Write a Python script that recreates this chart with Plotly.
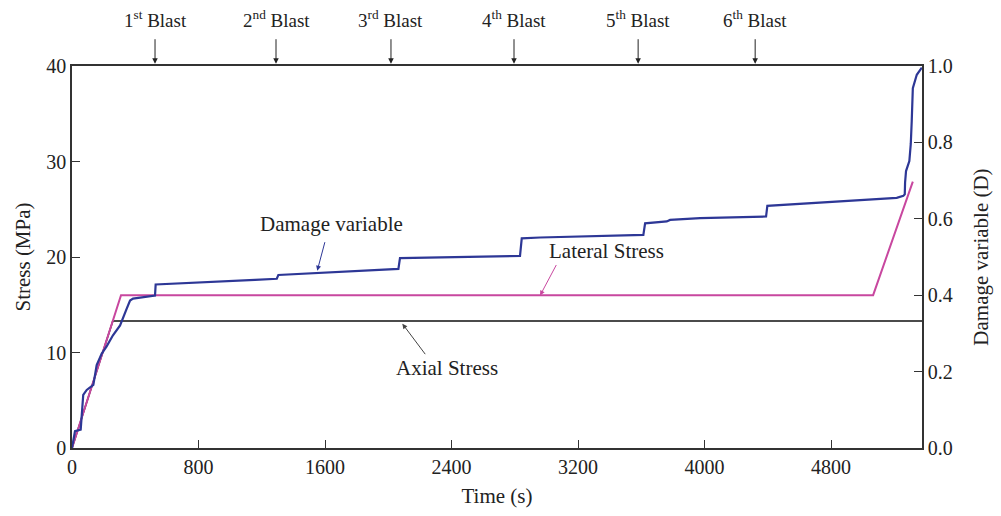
import plotly.graph_objects as go

# ---- data ----
damage_t = [0, 19, 55, 71, 93, 135, 156, 188, 219, 259, 304, 323, 346, 367, 386, 525, 529,
            1157, 1295, 1305, 1537, 1885, 2064, 2074, 2833, 2844, 2960, 3613, 3624, 3761,
            3782, 3972, 4389, 4397, 5215, 5257, 5266, 5268, 5274, 5295, 5304, 5310, 5317,
            5342, 5374]
damage_D = [0.0, 0.044, 0.048, 0.139, 0.152, 0.165, 0.217, 0.247, 0.266, 0.295, 0.321, 0.339,
            0.365, 0.386, 0.391, 0.399, 0.428, 0.440, 0.443, 0.453, 0.458, 0.464, 0.469, 0.497,
            0.503, 0.549, 0.551, 0.558, 0.588, 0.593, 0.597, 0.602, 0.606, 0.634, 0.655, 0.660,
            0.664, 0.695, 0.725, 0.751, 0.796, 0.855, 0.942, 0.977, 0.996]

lateral_t = [0, 310, 5066, 5317]
lateral_s = [0, 16.0, 16.0, 27.9]

axial_t = [0, 258, 5375]
axial_s = [0, 13.3, 13.3]

blast_t = [525, 1290, 2017, 2795, 3580, 4320]
blast_labels = ["1<sup>st</sup> Blast", "2<sup>nd</sup> Blast", "3<sup>rd</sup> Blast",
                "4<sup>th</sup> Blast", "5<sup>th</sup> Blast", "6<sup>th</sup> Blast"]

x_ticks = [0, 800, 1600, 2400, 3200, 4000, 4800]

FONT = "Liberation Serif"
BLUE = "#2d3796"
PINK = "#c8479f"
AX = "#333333"
TXT = 21
TICK = 20

fig = go.Figure()
fig.add_trace(go.Scatter(x=axial_t, y=axial_s, mode="lines",
                         line=dict(color="#111111", width=1.6), name="Axial Stress"))
fig.add_trace(go.Scatter(x=lateral_t, y=lateral_s, mode="lines",
                         line=dict(color=PINK, width=2), name="Lateral Stress"))
fig.add_trace(go.Scatter(x=damage_t, y=damage_D, mode="lines", yaxis="y2",
                         line=dict(color=BLUE, width=2.2), name="Damage variable"))

ann = []
for t, lab in zip(blast_t, blast_labels):
    ann.append(dict(x=t, y=1.117, xref="x", yref="paper", text=lab, showarrow=False,
                    yanchor="middle", yshift=2,
                    font=dict(family=FONT, size=19, color="#222")))
    ann.append(dict(x=t, y=1.006, xref="x", yref="paper", text="", showarrow=True,
                    ax=0, ay=-26, arrowhead=2, arrowsize=1.1, arrowwidth=1, arrowcolor="#222"))

ann += [
    dict(x=1642, y=23.44, xref="x", yref="y", text="Damage variable", showarrow=False,
         font=dict(family=FONT, size=TXT, color="#222")),
    dict(x=1551, y=18.57, xref="x", yref="y", text="", showarrow=True, ax=8, ay=-30,
         arrowhead=2, arrowsize=1, arrowwidth=1, arrowcolor=BLUE),
    dict(x=3383, y=20.66, xref="x", yref="y", text="Lateral Stress", showarrow=False,
         font=dict(family=FONT, size=TXT, color="#222")),
    dict(x=2960, y=15.97, xref="x", yref="y", text="", showarrow=True, ax=17, ay=-32,
         arrowhead=2, arrowsize=1, arrowwidth=1, arrowcolor=PINK),
    dict(x=2372, y=8.33, xref="x", yref="y", text="Axial Stress", showarrow=False,
         font=dict(family=FONT, size=TXT, color="#222")),
    dict(x=2089, y=13.02, xref="x", yref="y", text="", showarrow=True, ax=24, ay=32,
         arrowhead=2, arrowsize=1, arrowwidth=1, arrowcolor="#444"),
]

fig.update_layout(
    width=1001, height=516,
    margin=dict(l=72, r=79, t=66, b=66),
    paper_bgcolor="white", plot_bgcolor="white",
    showlegend=False,
    font=dict(family=FONT, size=TICK, color="#222"),
    xaxis=dict(range=[0, 5375], tickvals=x_ticks, ticks="inside", ticklen=8,
               tickcolor=AX, showline=True, linecolor=AX, linewidth=1.5, mirror=True,
               showgrid=False, zeroline=False, tickfont=dict(size=TICK),
               title=dict(text="Time (s)", standoff=12, font=dict(size=TXT))),
    yaxis=dict(range=[0, 40], tickvals=[0, 10, 20, 30, 40], ticks="inside", ticklen=8,
               tickcolor=AX, showline=True, linecolor=AX, linewidth=1.5,
               showgrid=False, zeroline=False, tickfont=dict(size=TICK),
               title=dict(text="Stress (MPa)", standoff=10, font=dict(size=TXT))),
    yaxis2=dict(range=[0, 1], tickvals=[0, 0.2, 0.4, 0.6, 0.8, 1.0], tickformat=".1f",
                overlaying="y", side="right", ticks="inside", ticklen=8, tickcolor=AX,
                showline=True, linecolor=AX, linewidth=1.5, showgrid=False, zeroline=False,
                tickfont=dict(size=TICK),
                title=dict(text="Damage variable (D)", standoff=22, font=dict(size=TXT))),
    annotations=ann,
)

fig.write_html("out.html")
